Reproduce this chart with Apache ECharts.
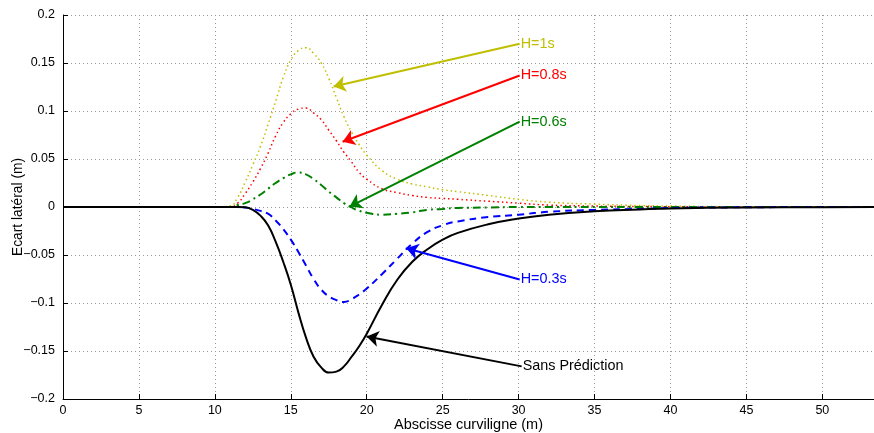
<!DOCTYPE html>
<html>
<head>
<meta charset="utf-8">
<script src="https://cdn.jsdelivr.net/npm/echarts@6/dist/echarts.min.js"></script>
<style>html,body{margin:0;padding:0;background:#fff}#c{width:874px;height:433px}</style>
</head>
<body>
<div id="c"></div>
<script>
// Abscissa samples (m)
const xs = [0, 10, 11, 11.5, 12, 12.5, 13, 13.5, 14, 14.5, 15, 15.5, 16, 16.5, 17, 17.5, 18, 18.5, 19, 19.5, 20, 21, 22, 23, 24, 25, 26, 28, 30, 32, 35, 38, 40, 45, 50, 53.4];
// Sans Prédiction
const ySans = [0, 0, 0, 0, -0.0003, -0.003, -0.009, -0.019, -0.036, -0.057, -0.081, -0.110, -0.136, -0.156, -0.167, -0.1725, -0.1715, -0.166, -0.156, -0.145, -0.132, -0.102, -0.076, -0.057, -0.044, -0.034, -0.027, -0.018, -0.012, -0.008, -0.0045, -0.0025, -0.0015, -0.0005, -0.0002, 0];
// H=0.3s
const yH03 = [0, 0, 0, 0, -0.0005, -0.002, -0.004, -0.007, -0.014, -0.023, -0.034, -0.047, -0.061, -0.075, -0.086, -0.093, -0.097, -0.099, -0.096, -0.091, -0.085, -0.070, -0.054, -0.038, -0.026, -0.019, -0.015, -0.0105, -0.008, -0.005, -0.003, -0.002, -0.001, -0.0003, 0, 0];
// H=0.6s
const yH06 = [0, 0, 0, 0.002, 0.004, 0.008, 0.013, 0.019, 0.025, 0.030, 0.034, 0.036, 0.034, 0.029, 0.023, 0.016, 0.010, 0.004, -0.0005, -0.004, -0.006, -0.008, -0.007, -0.0055, -0.003, -0.002, -0.001, -0.0005, 0, 0, 0, 0, 0, 0, 0, 0];
// H=0.8s
const yH08 = [0, 0, 0, 0.004, 0.014, 0.026, 0.040, 0.056, 0.074, 0.088, 0.097, 0.102, 0.103, 0.098, 0.091, 0.080, 0.069, 0.057, 0.047, 0.036, 0.029, 0.019, 0.015, 0.012, 0.010, 0.009, 0.008, 0.006, 0.004, 0.002, 0.001, 0.0005, 0.0003, 0, 0, 0];
// H=1s
const yH1 = [0, 0, 0.001, 0.010, 0.026, 0.044, 0.063, 0.086, 0.110, 0.135, 0.153, 0.163, 0.166, 0.160, 0.150, 0.134, 0.114, 0.094, 0.078, 0.065, 0.054, 0.038, 0.029, 0.024, 0.021, 0.018, 0.016, 0.012, 0.008, 0.005, 0.003, 0.0015, 0.001, 0.0002, 0, 0];

// Annotations: label, [tail x, tail y], [head x, head y]
const notes = [
  {name: 'H=1s',            tail: [30.07, 0.170],   head: [17.82, 0.1255]},
  {name: 'H=0.8s',          tail: [30.07, 0.137],   head: [18.41, 0.068]},
  {name: 'H=0.6s',          tail: [30.07, 0.089],   head: [18.87, 0.0005]},
  {name: 'H=0.3s',          tail: [30.07, -0.0755], head: [22.6, -0.043]},
  {name: 'Sans Prédiction', tail: [30.2, -0.166],   head: [19.99, -0.135]}
];

const FONT = 'Liberation Sans, Arial, Helvetica, sans-serif';
const zip = ys => xs.map((x, i) => [x, ys[i]]);

function mk(idx, color, lineType, width, ys) {
  const n = notes[idx];
  return {
    type: 'line', name: n.name, data: zip(ys), smooth: 0.5, showSymbol: false,
    lineStyle: {color: color, width: width, type: lineType}, z: 3,
    markLine: {
      silent: true, symbol: ['none', 'arrow'], symbolSize: 12, animation: false,
      lineStyle: {color: color, width: 2, type: 'solid'}, label: {show: false},
      data: [[{coord: n.tail}, {coord: n.head}]]
    },
    markPoint: {
      silent: true, animation: false, symbol: 'circle', symbolSize: 0,
      label: {show: true, position: 'right', distance: 1, formatter: n.name, color: color, fontFamily: FONT, fontSize: 14.4},
      data: [{coord: n.tail}]
    }
  };
}

const chart = echarts.init(document.getElementById('c'), null, {renderer: 'canvas'});
chart.setOption({
  animation: false,
  backgroundColor: '#fff',
  grid: {left: 63, top: 15, right: 0, bottom: 34, containLabel: false, outerBoundsMode: 'none'},
  xAxis: {
    type: 'value', min: 0, max: 53.4, interval: 5,
    name: 'Abscisse curviligne (m)', nameLocation: 'middle', nameGap: 18, nameMoveOverlap: false,
    nameTextStyle: {fontFamily: FONT, fontSize: 14.5, color: '#000'},
    axisLine: {show: true, onZero: false, lineStyle: {color: '#000', width: 1}},
    axisTick: {show: true, inside: true, length: 5, lineStyle: {color: '#000'}},
    axisLabel: {fontFamily: FONT, fontSize: 12.5, color: '#000', margin: 5, showMaxLabel: false},
    splitLine: {show: true, lineStyle: {color: '#999999', type: [1, 3], width: 1}}
  },
  yAxis: {
    type: 'value', min: -0.2, max: 0.2, interval: 0.05,
    name: 'Ecart latéral (m)', nameLocation: 'middle', nameGap: 38, nameMoveOverlap: false,
    nameTextStyle: {fontFamily: FONT, fontSize: 13.8, color: '#000'},
    axisLine: {show: true, onZero: false, lineStyle: {color: '#000', width: 1}},
    axisTick: {show: true, inside: true, length: 5, lineStyle: {color: '#000'}},
    axisLabel: {fontFamily: FONT, fontSize: 12.5, color: '#000', margin: 8,
      formatter: v => (Math.abs(v) < 1e-9 ? '0' : String(+v.toFixed(2)).replace('-', '\u2212'))},
    splitLine: {show: true, lineStyle: {color: '#999999', type: [1, 3], width: 1}}
  },
  series: [
    mk(0, '#bfbf00', [1.5, 3], 1.5, yH1),
    mk(1, '#ff0000', [1.5, 3], 1.5, yH08),
    mk(2, '#008000', [8, 4, 2, 4], 2, yH06),
    mk(3, '#0000ff', [7, 5], 2, yH03),
    mk(4, '#000000', 'solid', 2, ySans)
  ]
});
</script>
</body>
</html>
